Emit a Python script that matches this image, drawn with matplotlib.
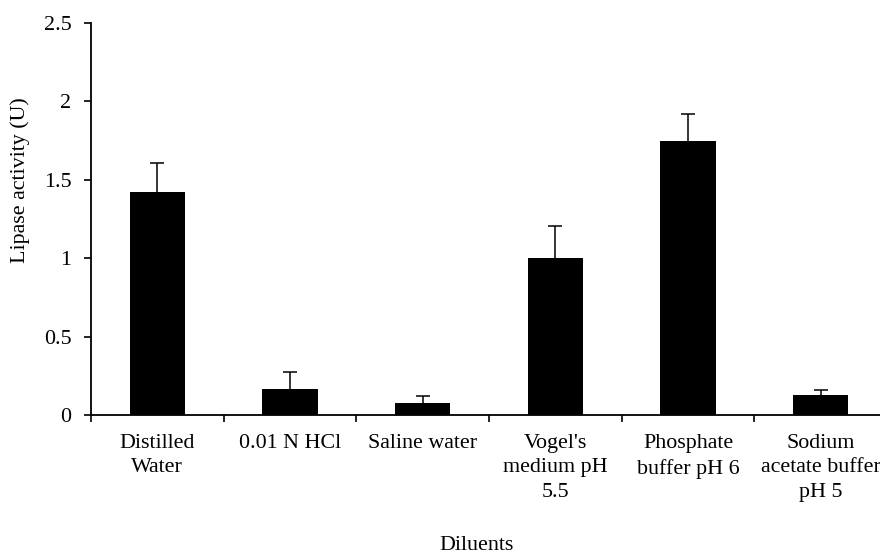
import matplotlib
matplotlib.use("Agg")
import matplotlib.pyplot as plt
import numpy as np

categories = ["Distilled\nWater", "0.01 N HCl", "Saline water",
              "Vogel's\nmedium pH\n5.5", "Phosphate\nbuffer pH 6",
              "Sodium\nacetate buffer\npH 5"]
values = [1.424, 0.164, 0.078, 0.999, 1.749, 0.126]
errors = [0.185, 0.110, 0.045, 0.206, 0.169, 0.034]
yticks = [0, 0.5, 1, 1.5, 2, 2.5]
ytick_labels = ["0", "0.5", "1", "1.5", "2", "2.5"]

plt.rcParams['font.family'] = ['Liberation Serif', 'DejaVu Serif']
fs = 15.8

fig = plt.figure(figsize=(8.8, 5.56), dpi=100)
ax = fig.add_axes([91/880, 141/556, (887-91)/880, (415-23)/556])

x = np.arange(len(categories))
ax.bar(x, values, width=0.415, color='black', zorder=2)
eb = ax.errorbar(x, values, yerr=[np.zeros(len(errors)), errors], fmt='none',
                 ecolor='black', elinewidth=1.1, capsize=5, capthick=1.1, zorder=3)
if len(eb[1]) == 2:
    eb[1][0].set_visible(False)

ax.set_xlim(-0.5, len(categories) - 0.5)
ax.set_ylim(0, 2.5)
ax.set_yticks(yticks)
ax.set_yticklabels(ytick_labels, fontsize=fs)
ax.set_xticks(x)
ax.set_xticklabels(categories, fontsize=fs, linespacing=1.36)
ax.set_xticks(np.arange(-0.5, len(categories), 1.0), minor=True)
ax.tick_params(axis='x', which='major', length=0, pad=14)
ax.tick_params(axis='x', which='minor', length=5, width=1.2, direction='out')
ax.tick_params(axis='y', length=5, width=1.2, direction='out', pad=9)

for s in ['top', 'right']:
    ax.spines[s].set_visible(False)
for s in ['left', 'bottom']:
    ax.spines[s].set_linewidth(1.3)

fig.text(20/880, 1 - 180/556, "Lipase activity (U)", rotation=90,
         ha='center', va='center', fontsize=fs)
fig.text(477/880, 1 - 545/556, "Diluents", ha='center', va='center', fontsize=fs)

fig.savefig("out.png", dpi=100)
